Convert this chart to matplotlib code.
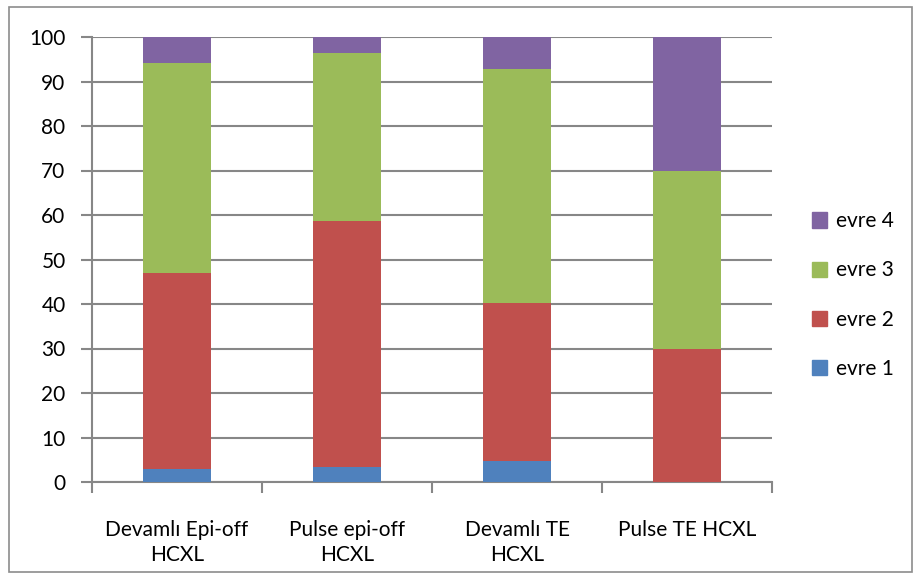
# stacked bars: share of each stage (evre) per treatment group
import numpy as np
import matplotlib.pyplot as plt
from matplotlib.patches import Rectangle, Patch

plt.rcParams['font.family'] = ['Lato', 'DejaVu Sans']

groups = ['Devamlı Epi-off\nHCXL', 'Pulse epi-off\nHCXL', 'Devamlı TE\nHCXL', 'Pulse TE HCXL']
series = ['evre 1', 'evre 2', 'evre 3', 'evre 4']
evre1 = [2.9, 3.4, 4.7, 0.0]
evre2 = [44.1, 55.2, 35.6, 30.0]
evre3 = [47.1, 37.9, 52.4, 40.0]
evre4 = [5.9, 3.5, 7.3, 30.0]
colors = ['#4F81BD', '#C0504D', '#9BBB59', '#8064A2']

W, H = 922, 579
fig = plt.figure(figsize=(W / 100, H / 100), dpi=100)
fig.patches.append(Rectangle((9 / W, 1 - 572 / H), 903 / W, 565 / H,
                             transform=fig.transFigure, fill=False,
                             edgecolor='#8C8C8C', linewidth=1.2))

ax = fig.add_axes([92 / W, 1 - 482 / H, 680 / W, 445 / H])
x = np.arange(len(groups))
bottom = np.zeros(len(groups))
for vals, c in zip([evre1, evre2, evre3, evre4], colors):
    ax.bar(x, vals, width=0.4, bottom=bottom, color=c, zorder=3)
    bottom += np.array(vals)

ax.set_xlim(-0.5, len(groups) - 0.5)
ax.set_ylim(0, 100)
ax.set_yticks(range(0, 101, 10))
ax.grid(axis='y', color='#878787', linewidth=1.5, zorder=0)
for s in ['top', 'right']:
    ax.spines[s].set_visible(False)
for s in ['left', 'bottom']:
    ax.spines[s].set_color('#878787')
    ax.spines[s].set_linewidth(1.5)

# category ticks sit on the boundaries between groups
ax.set_xticks(np.arange(-0.5, len(groups)), minor=False)
ax.set_xticklabels([])
ax.set_xticks(x, minor=True)
ax.set_xticklabels(groups, minor=True, fontsize=15, linespacing=1.35)
ax.tick_params(axis='x', which='major', length=8, width=1.5, color='#878787')
ax.tick_params(axis='x', which='minor', length=0, pad=27)
ax.tick_params(axis='y', length=8, width=1.5, color='#878787', labelsize=15, pad=11)

handles = [Patch(color=c) for c in colors][::-1]
fig.legend(handles, series[::-1], loc='center left', bbox_to_anchor=(793 / W, 1 - 295 / H),
           frameon=False, fontsize=15, handlelength=0.75, handleheight=0.75,
           handletextpad=0.4, labelspacing=1.4)

fig.savefig('out.png', dpi=100)
